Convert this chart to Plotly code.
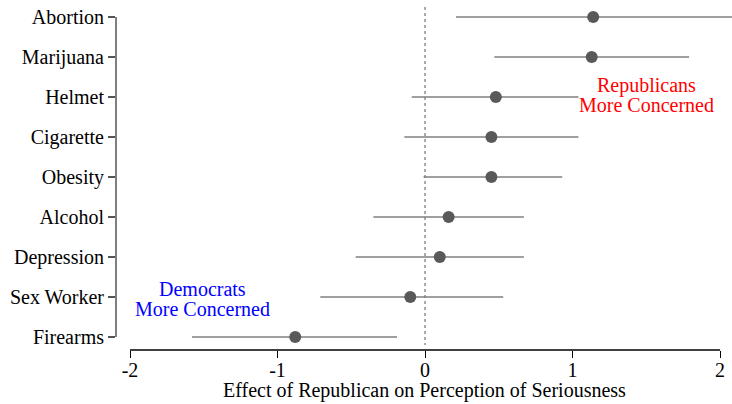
import plotly.graph_objects as go

# Issues, top to bottom
issues = ["Abortion", "Marijuana", "Helmet", "Cigarette", "Obesity",
          "Alcohol", "Depression", "Sex Worker", "Firearms"]
# Point estimate of the Republican effect and its interval bounds
estimate = [1.14, 1.13, 0.48, 0.45, 0.45, 0.16, 0.10, -0.10, -0.88]
ci_low = [0.21, 0.47, -0.09, -0.14, -0.01, -0.35, -0.47, -0.71, -1.58]
ci_high = [2.10, 1.79, 1.04, 1.04, 0.93, 0.67, 0.67, 0.53, -0.19]
x_ticks = [-2, -1, 0, 1, 2]

ypos = list(range(len(issues)))

seg_x, seg_y = [], []
for lo, hi, y in zip(ci_low, ci_high, ypos):
    seg_x += [lo, hi, None]
    seg_y += [y, y, None]

serif = "Liberation Serif"

fig = go.Figure()
fig.add_trace(go.Scatter(x=seg_x, y=seg_y, mode="lines",
                         line=dict(color="#7f7f7f", width=1.5),
                         hoverinfo="skip", showlegend=False))
fig.add_trace(go.Scatter(x=estimate, y=ypos, mode="markers",
                         marker=dict(color="#595959", size=12),
                         cliponaxis=False, showlegend=False))

# zero reference line
fig.add_shape(type="line", x0=0, x1=0, y0=-0.25, y1=8.2, xref="x", yref="y",
              line=dict(color="#555555", width=1, dash="dot"), layer="below")
# axis lines spanning only the data extent
fig.add_shape(type="line", x0=0, x1=0, y0=0, y1=8, xref="paper", yref="y",
              line=dict(color="#555555", width=1.5))
fig.add_shape(type="line", x0=-2, x1=2, y0=0, y1=0, xref="x", yref="paper",
              line=dict(color="black", width=1.5))

fig.add_annotation(x=1.5, y=1.7, text="Republicans", showarrow=False,
                   font=dict(family=serif, size=20, color="#ff0000"))
fig.add_annotation(x=1.5, y=2.2, text="More Concerned", showarrow=False,
                   font=dict(family=serif, size=20, color="#ff0000"))
fig.add_annotation(x=-1.51, y=6.8, text="Democrats", showarrow=False,
                   font=dict(family=serif, size=20, color="#0000ff"))
fig.add_annotation(x=-1.51, y=7.3, text="More Concerned", showarrow=False,
                   font=dict(family=serif, size=20, color="#0000ff"))
# x-axis title
fig.add_annotation(x=0.5, xref="paper", y=-53 / 350, yref="paper",
                   yanchor="bottom", showarrow=False, borderpad=0,
                   text="Effect of Republican on Perception of Seriousness",
                   font=dict(family=serif, size=20, color="black"))

fig.update_layout(
    width=732, height=404,
    margin=dict(l=116, r=0, t=0, b=54),
    plot_bgcolor="white", paper_bgcolor="white",
    font=dict(family=serif, size=20, color="black"),
    xaxis=dict(range=[-2.095, 2.081], tickvals=x_ticks,
               ticktext=[str(v) for v in x_ticks],
               ticks="outside", ticklen=7, tickcolor="black", tickwidth=1,
               ticklabelstandoff=-5,
               showgrid=False, zeroline=False, showline=False),
    yaxis=dict(range=[8.325, -0.425], tickvals=ypos, ticktext=issues,
               ticks="outside", ticklen=7, tickcolor="#555555", tickwidth=1.5,
               showgrid=False, zeroline=False, showline=False),
)

fig.write_html("out.html")
